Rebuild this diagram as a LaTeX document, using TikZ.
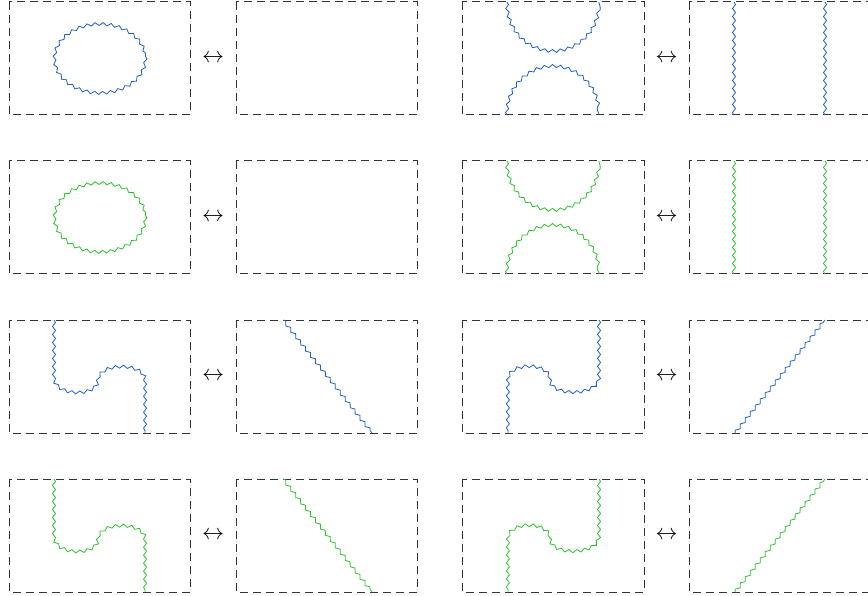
\documentclass[tikz,border=0pt]{standalone}
\usepackage{graphicx}
\usetikzlibrary{decorations.pathmorphing}
\definecolor{wblue}{HTML}{1F5FC8}
\definecolor{wgreen}{HTML}{2DC22D}
\newcommand{\swaparrow}{\scalebox{2.2}{$\leftrightarrow$}}
\begin{document}
\begin{tikzpicture}[x=1pt,y=-1pt,
  frame/.style={draw=black!80, dash pattern=on 8pt off 5pt, line width=1pt},
  wavy/.style={line width=0.8pt, decorate, decoration={snake, amplitude=1.5pt, segment length=8pt}},
  swapsym/.style={inner sep=0pt}]
\useasboundingbox (0,0) rectangle (868,596);
% closed-loop rows
\foreach \dy/\col/\n in {0/wblue/1, 159/wgreen/2}{
  \begin{scope}[shift={(0,\dy)}]
    \draw[frame] (9,2) rectangle (190,115);
    \draw[frame] (236,2) rectangle (417,115);
    \draw[frame] (462,2) rectangle (644,115);
    \draw[frame] (689,2) rectangle (870,115);
    \node[swapsym] (la\n) at (213,58.5) {\swaparrow};
    \node[swapsym] (ra\n) at (666.5,58.5) {\swaparrow};
    \draw[wavy,\col] (100,56.5) ellipse [x radius=45.5, y radius=34.5];
    \draw[wavy,\col] (507,2) arc[start angle=180,end angle=0,x radius=46,y radius=47];
    \draw[wavy,\col] (507,115) arc[start angle=180,end angle=360,x radius=46,y radius=47];
    \draw[wavy,\col] (734,2) -- (734,115);
    \draw[wavy,\col] (825,2) -- (825,115);
  \end{scope}
}
% open-line rows
\foreach \dy/\col/\n in {318/wblue/3, 477/wgreen/4}{
  \begin{scope}[shift={(0,\dy)}]
    \draw[frame] (9,2) rectangle (190,115);
    \draw[frame] (236,2) rectangle (417,115);
    \draw[frame] (462,2) rectangle (644,115);
    \draw[frame] (689,2) rectangle (870,115);
    \node[swapsym] (la\n) at (213,58.5) {\swaparrow};
    \node[swapsym] (ra\n) at (666.5,58.5) {\swaparrow};
    \draw[wavy,\col] (54,2) -- (54,57) .. controls (54,77) and (98,77) .. (98,60)
        .. controls (98,42) and (145,42) .. (145,60) -- (145,115);
    \draw[wavy,\col] (283,2) -- (372,115);
    \draw[wavy,\col] (599,2) -- (599,57) .. controls (599,77) and (550,77) .. (550,60)
        .. controls (550,42) and (508,42) .. (508,60) -- (508,115);
    \draw[wavy,\col] (735,115) -- (825,2);
  \end{scope}
}
\end{tikzpicture}
\end{document}
